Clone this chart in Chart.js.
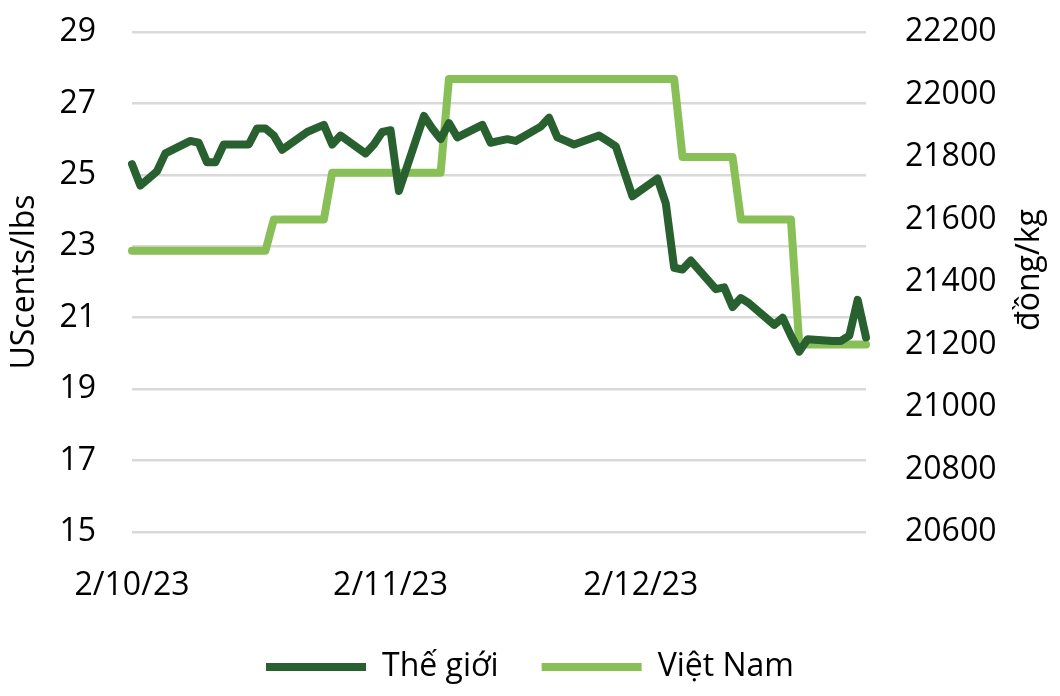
<!DOCTYPE html>
<html lang="vi">
<head>
<meta charset="utf-8">
<script src="https://cdn.jsdelivr.net/npm/chart.js@4.4.0/dist/chart.umd.min.js"></script>
<style>
    html, body { margin: 0; padding: 0; background: #fff; }
    #khung { width: 1060px; height: 696px; }
</style>
</head>
<body>
<div id="khung"><canvas id="graficoCaPhe"></canvas></div>
<script>
// Ngày giao dịch (ngày làm việc)
const ngay = [
    '2023-10-02', '2023-10-03', '2023-10-04', '2023-10-05', '2023-10-06',
    '2023-10-09', '2023-10-10', '2023-10-11', '2023-10-12', '2023-10-13',
    '2023-10-16', '2023-10-17', '2023-10-18', '2023-10-19', '2023-10-20',
    '2023-10-23', '2023-10-24', '2023-10-25', '2023-10-26', '2023-10-27',
    '2023-10-30', '2023-10-31', '2023-11-01', '2023-11-02', '2023-11-03',
    '2023-11-06', '2023-11-07', '2023-11-08', '2023-11-09', '2023-11-10',
    '2023-11-13', '2023-11-14', '2023-11-15', '2023-11-16', '2023-11-17',
    '2023-11-20', '2023-11-21', '2023-11-22', '2023-11-23', '2023-11-24',
    '2023-11-27', '2023-11-28', '2023-11-29', '2023-11-30', '2023-12-01',
    '2023-12-04', '2023-12-05', '2023-12-06', '2023-12-07', '2023-12-08',
    '2023-12-11', '2023-12-12', '2023-12-13', '2023-12-14', '2023-12-15',
    '2023-12-18', '2023-12-19', '2023-12-20', '2023-12-21', '2023-12-22',
    '2023-12-25', '2023-12-26', '2023-12-27', '2023-12-28', '2023-12-29'
];

// Giá thế giới (UScents/lbs)
const theGioi = [
    25.3, 24.7, 24.9, 25.1, 25.6,
    25.95, 25.9, 25.35, 25.35, 25.85,
    25.85, 26.3, 26.3, 26.1, 25.7,
    26.2, 26.3, 26.4, 25.85, 26.1,
    25.6, 25.85, 26.2, 26.25, 24.55,
    26.65, 26.3, 26.0, 26.45, 26.05,
    26.4, 25.9, 25.95, 26.0, 25.95,
    26.35, 26.6, 26.05, 25.95, 25.85,
    26.1, 25.95, 25.8, 25.1, 24.4,
    24.9, 24.2, 22.4, 22.35, 22.6,
    21.8, 21.85, 21.3, 21.55, 21.4,
    20.8, 21.0, 20.5, 20.05, 20.4,
    20.35, 20.35, 20.5, 21.5, 20.45
];

// Giá Việt Nam (đồng/kg)
const vietNam = [
    21500, 21500, 21500, 21500, 21500,
    21500, 21500, 21500, 21500, 21500,
    21500, 21500, 21500, 21600, 21600,
    21600, 21600, 21600, 21750, 21750,
    21750, 21750, 21750, 21750, 21750,
    21750, 21750, 21750, 22050, 22050,
    22050, 22050, 22050, 22050, 22050,
    22050, 22050, 22050, 22050, 22050,
    22050, 22050, 22050, 22050, 22050,
    22050, 22050, 22050, 21800, 21800,
    21800, 21800, 21800, 21600, 21600,
    21600, 21600, 21600, 21200, 21200,
    21200, 21200, 21200, 21200, 21200
];

// Mốc trục hoành
const ngayMoc = ['2023-10-02', '2023-11-02', '2023-12-02'];
const nhanMoc = ['2/10/23', '2/11/23', '2/12/23'];

const phong = 'Open Sans';
const coChu = 32;

function soNgay(d) {
    return (Date.parse(d) - Date.parse(ngay[0])) / 86400000;
}

function diem(values) {
    return values.map(function (v, i) { return { x: soNgay(ngay[i]), y: v }; });
}

// Tiêu đề trục phải, đọc từ dưới lên
const tieuDePhai = {
    id: 'tieuDePhai',
    afterDraw: function (chart) {
        const ctx = chart.ctx;
        const area = chart.chartArea;
        ctx.save();
        ctx.translate(1030, (area.top + area.bottom) / 2 - 12);
        ctx.rotate(-Math.PI / 2);
        ctx.font = coChu + 'px "' + phong + '"';
        ctx.fillStyle = '#000';
        ctx.textAlign = 'center';
        ctx.textBaseline = 'middle';
        ctx.fillText('đồng/kg', 0, 0);
        ctx.restore();
    }
};

const ctx = document.getElementById('graficoCaPhe').getContext('2d');

new Chart(ctx, {
    type: 'line',
    data: {
        datasets: [{
            label: 'Thế giới',
            data: diem(theGioi),
            yAxisID: 'y',
            borderColor: '#29602f',
            backgroundColor: '#29602f',
            borderWidth: 8,
            borderCapStyle: 'round',
            borderJoinStyle: 'round',
            pointRadius: 0,
            tension: 0,
            clip: false
        },
        {
            label: 'Việt Nam',
            data: diem(vietNam),
            yAxisID: 'y1',
            borderColor: '#88bf56',
            backgroundColor: '#88bf56',
            borderWidth: 8,
            borderCapStyle: 'round',
            borderJoinStyle: 'round',
            pointRadius: 0,
            tension: 0,
            clip: false
        }]
    },
    options: {
        responsive: true,
        maintainAspectRatio: false,
        animation: false,
        devicePixelRatio: 1,
        layout: { padding: { top: 32, left: 0, right: 0, bottom: 4 } },
        scales: {
            x: {
                type: 'linear',
                min: 0,
                max: soNgay(ngay[ngay.length - 1]),
                grid: { display: false },
                border: { display: false },
                afterBuildTicks: function (axis) {
                    axis.ticks = ngayMoc.map(function (d) { return { value: soNgay(d) }; });
                },
                afterFit: function (axis) {
                    axis.height = 76;
                    axis.paddingLeft = 0;
                    axis.paddingRight = 0;
                },
                ticks: {
                    autoSkip: false,
                    maxRotation: 0,
                    padding: 27,
                    color: '#000',
                    font: { family: phong, size: coChu },
                    callback: function (value, index) {
                        return nhanMoc[index];
                    }
                }
            },
            y: {
                position: 'left',
                min: 15,
                max: 29,
                border: { display: false },
                grid: { color: '#d9d9d9', lineWidth: 2.5, drawTicks: false },
                afterFit: function (axis) {
                    axis.width = 132;
                    axis.paddingTop = 0;
                    axis.paddingBottom = 0;
                },
                ticks: {
                    stepSize: 2,
                    padding: 36,
                    color: '#000',
                    font: { family: phong, size: coChu }
                },
                title: {
                    display: true,
                    text: 'UScents/lbs',
                    color: '#000',
                    padding: { top: 6, bottom: 14 },
                    font: { family: phong, size: coChu }
                }
            },
            y1: {
                position: 'right',
                min: 20600,
                max: 22200,
                border: { display: false },
                grid: { drawOnChartArea: false, drawTicks: false },
                afterFit: function (axis) {
                    axis.width = 194;
                    axis.paddingTop = 0;
                    axis.paddingBottom = 0;
                },
                ticks: {
                    stepSize: 200,
                    padding: 39,
                    color: '#000',
                    font: { family: phong, size: coChu },
                    callback: function (value) { return String(value); }
                }
            }
        },
        plugins: {
            legend: {
                position: 'bottom',
                maxHeight: 84,
                labels: {
                    usePointStyle: true,
                    pointStyle: 'line',
                    pointStyleWidth: 100,
                    padding: 43,
                    color: '#000',
                    font: { family: phong, size: coChu }
                }
            },
            tooltip: { enabled: false }
        }
    },
    plugins: [tieuDePhai]
});
</script>
</body>
</html>
